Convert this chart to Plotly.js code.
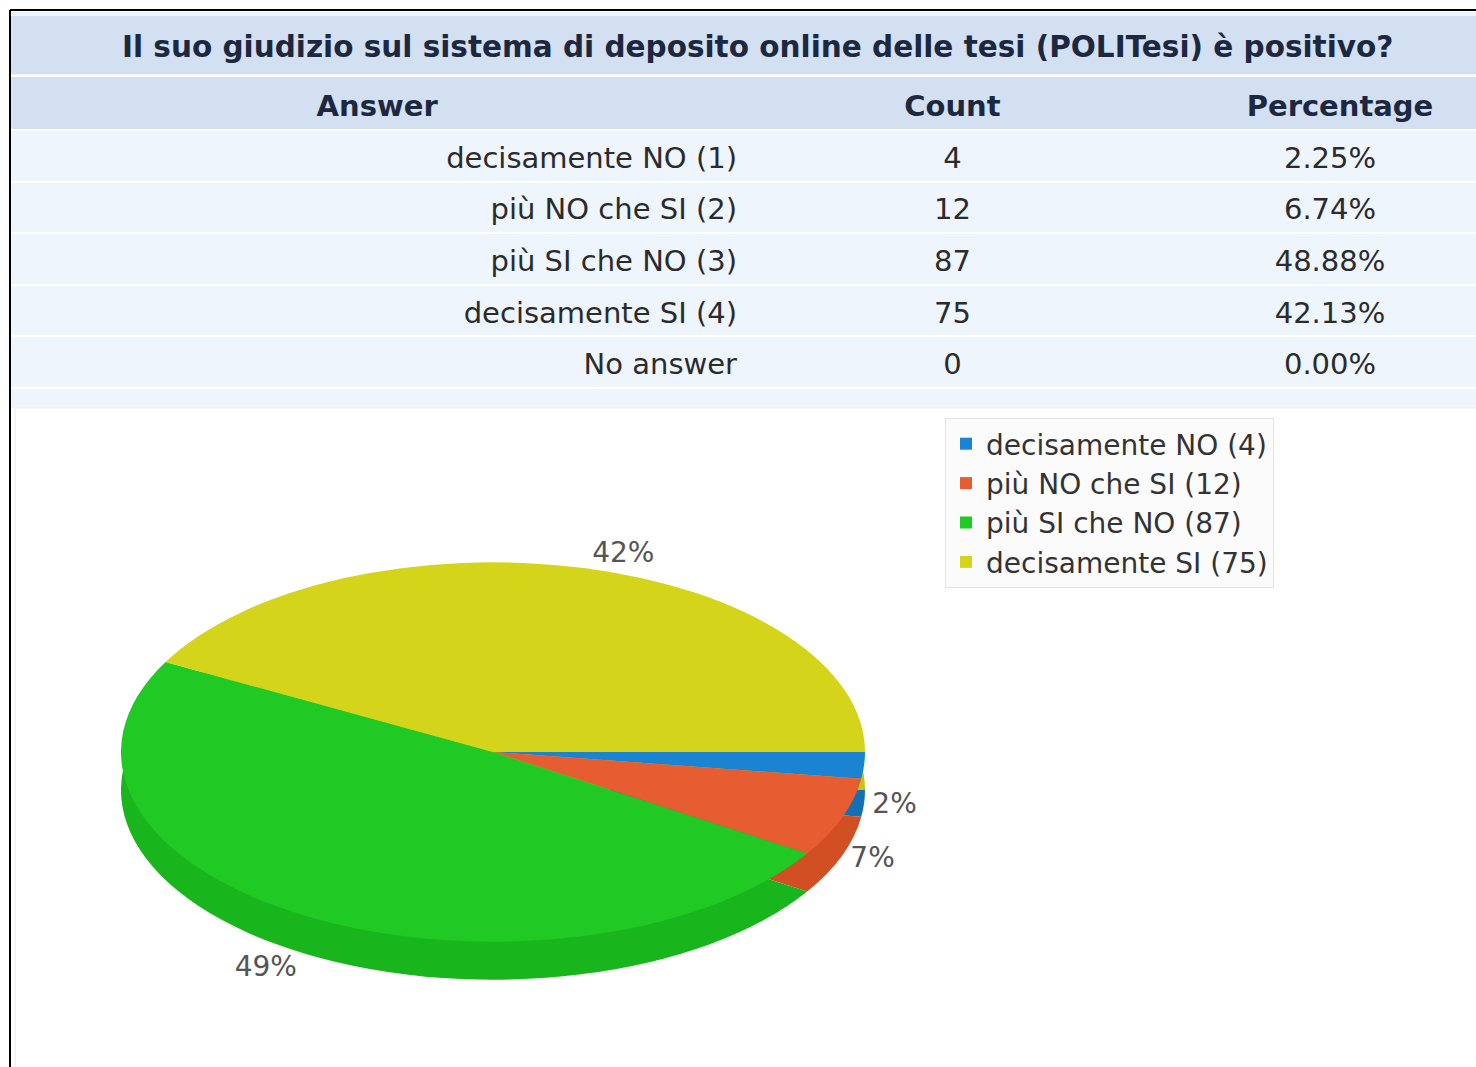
<!DOCTYPE html>
<html><head><meta charset="utf-8">
<script src="https://cdn.plot.ly/plotly-3.0.1.min.js"></script>
<style>html,body{margin:0;padding:0;background:#fff;} #chart{width:1476px;height:1067px;}</style>
</head><body><div id="chart"></div>
<script>
const questionTitle = 'Il suo giudizio sul sistema di deposito online delle tesi (POLITesi) è positivo?';
const columnHeaders = ['Answer', 'Count', 'Percentage'];
const answerNames = ['decisamente NO', 'più NO che SI', 'più SI che NO', 'decisamente SI', 'No answer'];
const answerCodes = ['1', '2', '3', '4', ''];
const answerCounts = [4, 12, 87, 75, 0];
const answerPercentages = ['2.25%', '6.74%', '48.88%', '42.13%', '0.00%'];
const pieNames = ['decisamente NO', 'più NO che SI', 'più SI che NO', 'decisamente SI'];
const pieCounts = [4, 12, 87, 75];
const topColors = ['#1a84d2', '#e65d31', '#20c923', '#d4d41b'];
const sideColors = ['#1470b5', '#d14f23', '#19b51c', '#c4c417'];

const W = 1476, H = 1067;
const px = x => x / W;
const py = y => 1 - y / H;

const answerLabels = answerNames.map((n, i) => answerCodes[i] ? n + ' (' + answerCodes[i] + ')' : n);
const pieLabels = pieNames.map((n, i) => n + ' (' + pieCounts[i] + ')');

const tableTrace = {
  type: 'table',
  domain: {x: [px(10), 1], y: [py(400), py(76)]},
  columnwidth: [735, 415, 316],
  header: {
    values: columnHeaders.map(h => '<b>' + h + '</b>'),
    align: 'center', height: 54,
    fill: {color: '#d2e0f2'}, line: {color: '#ffffff', width: 2},
    font: {family: 'DejaVu Sans', size: 29, color: '#1c2740'}
  },
  cells: {
    values: [answerLabels, answerCounts.map(String), answerPercentages],
    align: ['right', 'center', 'center'], height: 51.6,
    fill: {color: '#eef5fd'}, line: {color: '#ffffff', width: 2},
    font: {family: 'DejaVu Sans', size: 29, color: '#2b2b2b'}
  }
};

const pieDomain = {x: [px(121), px(865)], y: [py(1044), py(300)]};
const sidePie = {
  type: 'pie', name: 'side', labels: pieLabels, values: pieCounts, sort: false,
  direction: 'clockwise', rotation: 90, domain: pieDomain,
  marker: {colors: sideColors, line: {width: 0}},
  textinfo: 'none', showlegend: false, hoverinfo: 'skip'
};
const topPie = {
  type: 'pie', name: 'top', labels: pieLabels, values: pieCounts, sort: false,
  direction: 'clockwise', rotation: 90, domain: pieDomain,
  marker: {colors: topColors, line: {width: 0}},
  texttemplate: '%{percent:.0%}', textposition: 'outside',
  outsidetextfont: {family: 'DejaVu Sans', size: 28, color: '#555555'},
  hoverinfo: 'skip'
};

const layout = {
  width: W, height: H,
  margin: {l: 0, r: 0, t: 0, b: 0},
  paper_bgcolor: '#ffffff',
  showlegend: true,
  legend: {
    x: px(945), y: py(418), xanchor: 'left', yanchor: 'top',
    bgcolor: '#fbfbfb', bordercolor: '#e2e2e2', borderwidth: 1,
    font: {family: 'DejaVu Sans', size: 28, color: '#333333'}
  },
  shapes: [
    {type: 'rect', xref: 'paper', yref: 'paper', x0: px(10), x1: 1, y0: py(408), y1: py(12), fillcolor: '#eef5fd', line: {width: 0}, layer: 'below'},
    {type: 'rect', xref: 'paper', yref: 'paper', x0: px(10), x1: 1, y0: py(74), y1: py(16), fillcolor: '#d2e0f2', line: {width: 0}, layer: 'below'},
    {type: 'rect', xref: 'paper', yref: 'paper', x0: px(15), x1: px(1480), y0: py(1070), y1: py(408), fillcolor: '#ffffff', line: {color: '#ececec', width: 1}, layer: 'below'},
    {type: 'line', xref: 'paper', yref: 'paper', x0: px(10), x1: 1, y0: py(10), y1: py(10), line: {color: '#000000', width: 2}},
    {type: 'line', xref: 'paper', yref: 'paper', x0: px(10), x1: px(10), y0: py(10), y1: 0, line: {color: '#000000', width: 2}}
  ],
  annotations: [
    {text: '<b>' + questionTitle + '</b>', xref: 'paper', yref: 'paper', x: px(757), y: py(47),
     xanchor: 'center', yanchor: 'middle', showarrow: false,
     font: {family: 'DejaVu Sans', size: 29.5, color: '#1c2740'}}
  ]
};

function flatten(gd) {
  const s = 0.51, cyTarget = 752, depth = 38;
  gd.querySelectorAll('.pielayer .trace').forEach(tr => {
    const cd = tr.__data__;
    if (!cd || !cd[0]) return;
    const cd0 = cd[0];
    const isSide = cd0.trace.name === 'side';
    const extra = isSide ? depth : 0;
    const ty = cyTarget + extra - s * cd0.cy;
    tr.querySelectorAll('g.slice').forEach(g => {
      const pt = g.__data__;
      const path = g.querySelector('path.surface');
      if (path) path.setAttribute('transform', 'translate(0,' + ty + ') scale(1,' + s + ')');
      const txt = g.querySelector('g.slicetext');
      if (txt && pt && pt.pxmid) {
        const my = pt.pxmid[1];
        const dy = (cyTarget - cd0.cy) + (s - 1) * my + (my > 0 ? depth : 0);
        const old = txt.getAttribute('transform') || '';
        txt.setAttribute('transform', 'translate(0,' + dy + ') ' + old);
      }
    });
  });
}

function tidyTable(gd) {
  // keep only horizontal separators between rows
  gd.querySelectorAll('.table .cell-rect').forEach(r => {
    const w = parseFloat(r.getAttribute('width')) || 0;
    const h = parseFloat(r.getAttribute('height')) || 0;
    if (w && h) r.setAttribute('stroke-dasharray', w + ',' + h + ',' + w + ',' + h);
  });
  // vertically centre the text in its row, nudge the last column like the original page
  gd.querySelectorAll('.table .cell-text').forEach(t => {
    const bb = t.getBoundingClientRect();
    const isHeader = bb.top < 130;
    let dx = 0;
    if (bb.left + bb.width / 2 > 1160) dx = isHeader ? 22 : 12;
    const dy = isHeader ? 5 : 8;
    const old = t.getAttribute('transform') || '';
    t.setAttribute('transform', 'translate(' + dx + ',' + dy + ') ' + old);
  });
}

Plotly.newPlot('chart', [tableTrace, sidePie, topPie], layout, {displayModeBar: false, staticPlot: true})
  .then(gd => { flatten(gd); tidyTable(gd); });
</script>
</body></html>
